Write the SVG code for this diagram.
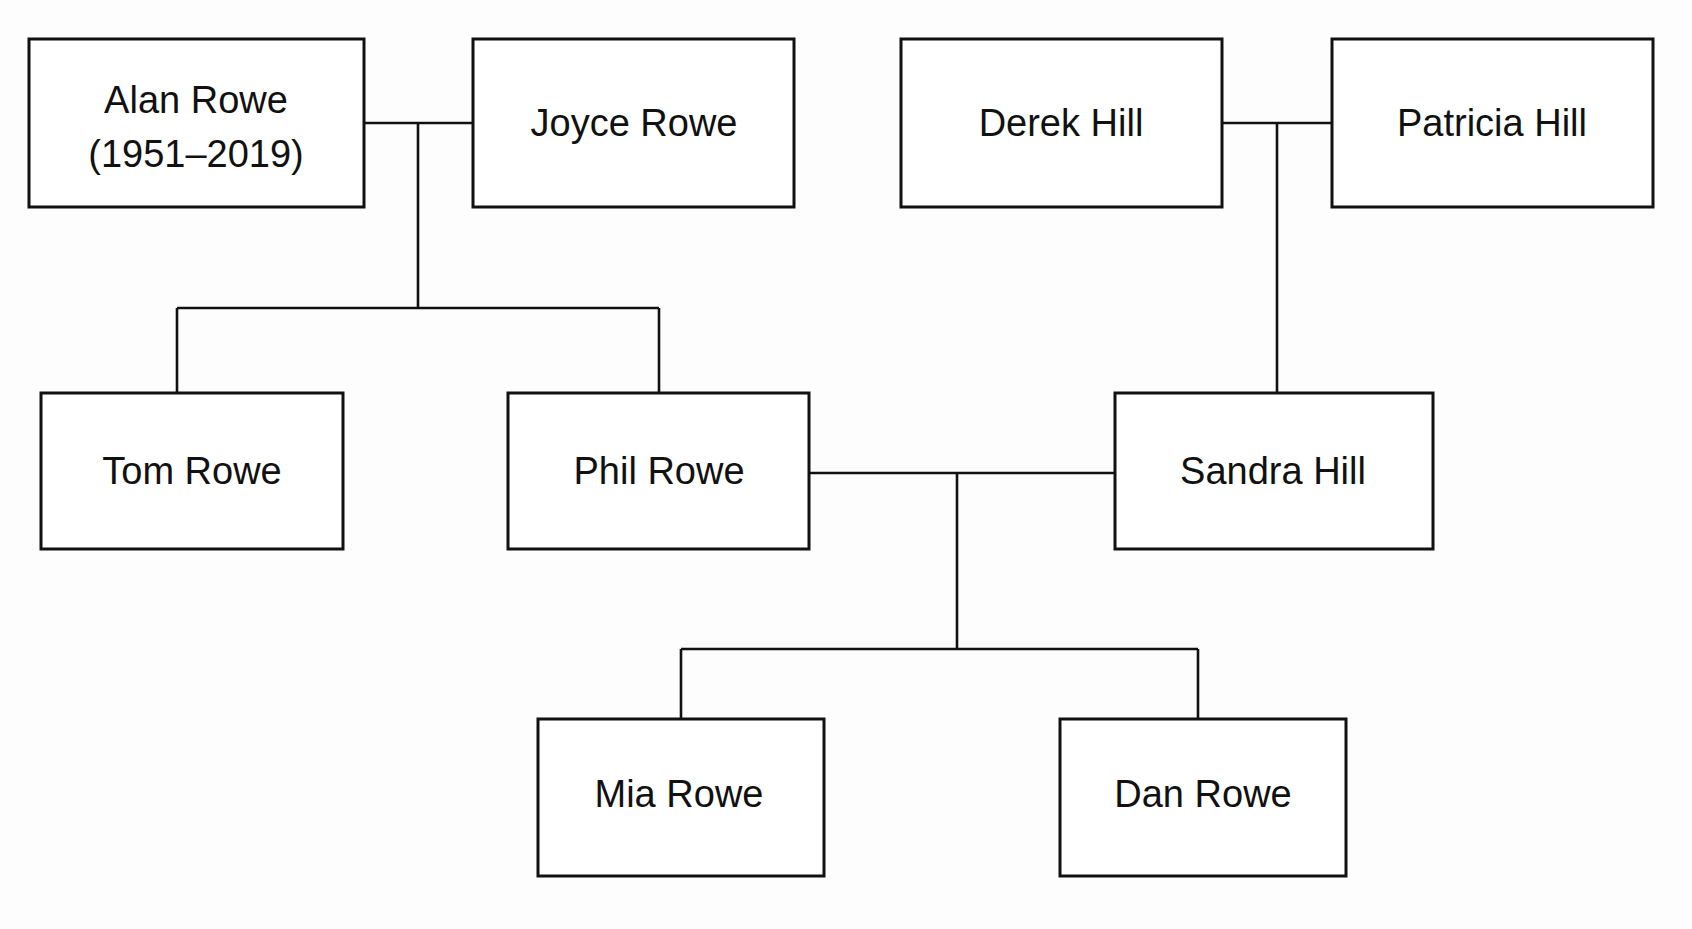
<svg xmlns="http://www.w3.org/2000/svg" width="1692" height="929" viewBox="0 0 1692 929">
<style>
.box{fill:#fff;stroke:#111;stroke-width:3}
.lbl{font-family:"Liberation Sans",Arial,sans-serif;font-size:38px;fill:#111;text-anchor:middle}
.conn{fill:none;stroke:#111;stroke-width:2.6}
</style>
<rect width="1692" height="929" fill="#fdfdfd"/>
<g id="connectors">
<path class="conn" d="M364 123H473M418 123V308M177 308H659M177 308V393M659 308V393"/>
<path class="conn" d="M1222 123H1332M1277 123V393"/>
<path class="conn" d="M809 473H1115M957 473V649M681 649H1198M681 649V719M1198 649V719"/>
</g>
<g id="alan"><rect class="box" x="29" y="39" width="335" height="168"/><text class="lbl" x="196" y="113">Alan Rowe</text><text class="lbl" x="196" y="167">(1951–2019)</text></g>
<g id="joyce"><rect class="box" x="473" y="39" width="321" height="168"/><text class="lbl" x="634" y="136">Joyce Rowe</text></g>
<g id="derek"><rect class="box" x="901" y="39" width="321" height="168"/><text class="lbl" x="1061" y="136">Derek Hill</text></g>
<g id="patricia"><rect class="box" x="1332" y="39" width="321" height="168"/><text class="lbl" x="1492" y="136">Patricia Hill</text></g>
<g id="tom"><rect class="box" x="41" y="393" width="302" height="156"/><text class="lbl" x="192" y="484">Tom Rowe</text></g>
<g id="phil"><rect class="box" x="508" y="393" width="301" height="156"/><text class="lbl" x="659" y="484">Phil Rowe</text></g>
<g id="sandra"><rect class="box" x="1115" y="393" width="318" height="156"/><text class="lbl" x="1273" y="484">Sandra Hill</text></g>
<g id="mia"><rect class="box" x="538" y="719" width="286" height="157"/><text class="lbl" x="679" y="807">Mia Rowe</text></g>
<g id="dan"><rect class="box" x="1060" y="719" width="286" height="157"/><text class="lbl" x="1203" y="807">Dan Rowe</text></g>
</svg>
